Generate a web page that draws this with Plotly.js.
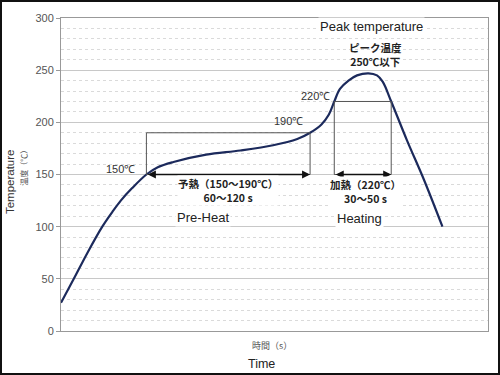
<!DOCTYPE html>
<html>
<head>
<meta charset="utf-8">
<script src="https://cdn.plot.ly/plotly-3.0.1.min.js"></script>
<style>
html,body{margin:0;padding:0;background:#fff;}
#chart{width:500px;height:375px;box-sizing:border-box;border:2px solid #111;}
</style>
</head>
<body>
<div id="chart"></div>
<script>
// Reflow profile (time in s, temperature in °C)
const timeS = [0, 9, 19, 29, 36, 42, 50, 60, 68, 79, 102, 126, 149, 166, 175, 183, 188, 192, 196, 202, 208, 216, 222, 226, 232, 243, 255, 268];
const tempC = [27, 50, 76, 100, 114, 125, 137, 150, 157, 162, 169, 173, 178, 184, 190, 198, 207, 220, 232, 240, 245, 247, 245, 239, 220, 183, 145, 100];
const yTicks = [0, 50, 100, 150, 200, 250, 300];

// Zones
const preheatTime = [60, 175];
const preheatTemp = [150, 190];
const heatingTime = [192, 232];
const heatingTemp = [150, 220];

const latin = "Liberation Sans, Arial, sans-serif";
const cjk = "Noto Sans CJK JP, sans-serif";

const trace = {
  x: timeS, y: tempC, type: 'scatter', mode: 'lines',
  line: {color: '#1c2a5c', width: 2.2, shape: 'spline', smoothing: 1},
  hoverinfo: 'skip'
};

const shapes = [
  {type:'rect', xref:'x', yref:'y', x0:preheatTime[0], x1:preheatTime[1], y0:preheatTemp[0], y1:preheatTemp[1], line:{color:'#555', width:1}},
  {type:'rect', xref:'x', yref:'y', x0:heatingTime[0], x1:heatingTime[1], y0:heatingTemp[0], y1:heatingTemp[1], line:{color:'#555', width:1}}
];

function txt(x, y, text, size, opts) {
  return Object.assign({x:x, y:y, xref:'x', yref:'y', text:text, showarrow:false,
    font:{family:latin, size:size, color:'#222'}}, opts || {});
}
const boldCjk = {family:cjk, size:10.5, color:'#222'};

const annotations = [
  // double-headed arrows
  {x:preheatTime[1], y:preheatTemp[0], ax:preheatTime[0], ay:preheatTemp[0], xref:'x', yref:'y', axref:'x', ayref:'y',
   text:'', showarrow:true, arrowside:'end+start', arrowhead:2, arrowsize:1, arrowwidth:1.6, arrowcolor:'#111'},
  {x:heatingTime[1], y:heatingTemp[0], ax:heatingTime[0], ay:heatingTemp[0], xref:'x', yref:'y', axref:'x', ayref:'y',
   text:'', showarrow:true, arrowside:'end+start', arrowhead:2, arrowsize:1, arrowwidth:1.6, arrowcolor:'#111'},
  txt(42, 155.5, '150℃', 11, {font:{family:latin, size:11, color:'#333'}}),
  txt(160, 201, '190℃', 11, {font:{family:latin, size:11, color:'#333'}}),
  txt(179, 225, '220℃', 11, {font:{family:latin, size:11, color:'#333'}}),
  txt(218, 292, 'Peak temperature', 13, {bgcolor:'#fff'}),
  txt(221, 265, '<b>ピーク温度</b><br><b>250℃以下</b>', 11, {font:boldCjk}),
  txt(117, 134.5, '<b>予熱（150～190℃）</b><br><b>60～120 s</b>', 11, {font:boldCjk, bgcolor:'#fff', borderpad:0}),
  txt(100, 109, 'Pre-Heat', 13, {bgcolor:'#fff'}),
  txt(214, 133.5, '<b>加熱（220℃）</b><br><b>30～50 s</b>', 11, {font:boldCjk, bgcolor:'#fff', borderpad:0}),
  txt(210, 108, 'Heating', 13, {bgcolor:'#fff'}),
  // axis titles
  {x:0.495, y:-0.047, xref:'paper', yref:'paper', yanchor:'middle', text:'時間（s）', showarrow:false,
   font:{family:cjk, size:9, color:'#555'}},
  {x:0.47, y:-0.105, xref:'paper', yref:'paper', yanchor:'middle', text:'Time', showarrow:false,
   font:{family:latin, size:12.5, color:'#222'}},
  {x:-0.138, y:0.476, xref:'paper', yref:'paper', text:'Temperature', textangle:-90, showarrow:false,
   font:{family:latin, size:11.5, color:'#333'}},
  {x:-0.107, y:0.527, xref:'paper', yref:'paper', text:'温度（℃）', textangle:-90, showarrow:false,
   font:{family:cjk, size:8, color:'#555'}}
];

const layout = {
  width: 496, height: 371,
  margin: {l:59, r:10, t:16, b:42},
  paper_bgcolor:'#fff', plot_bgcolor:'#fff',
  showlegend:false,
  xaxis: {range:[0, 300], showticklabels:false, ticks:'', showgrid:false, zeroline:false,
          showline:true, linecolor:'#999', linewidth:1, mirror:true},
  yaxis: {range:[0, 300], tickvals:yTicks, ticktext:yTicks.map(String), ticks:'outside', ticklen:4, tickcolor:'#999',
          tickfont:{family:latin, size:11, color:'#555'},
          showgrid:true, gridcolor:'#c8c8c8', gridwidth:1, zeroline:false,
          showline:true, linecolor:'#999', linewidth:1, mirror:true,
          minor:{dtick:10, showgrid:true, gridcolor:'#dadada', griddash:'dot', gridwidth:1}},
  shapes: shapes,
  annotations: annotations
};

Plotly.newPlot('chart', [trace], layout, {staticPlot:true, displayModeBar:false});
</script>
</body>
</html>
